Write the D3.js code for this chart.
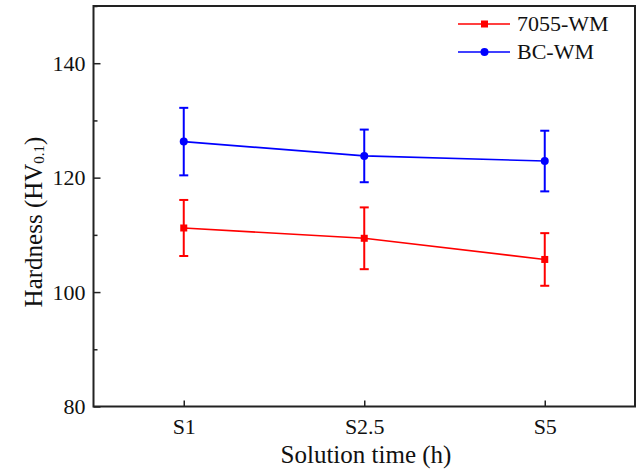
<!doctype html>
<html>
<head>
  <script src="https://d3js.org/d3.v7.min.js"></script>
  <style>
    body { margin:0; background:#fff; }
    text { font-family: "Liberation Serif", "Times New Roman", serif; fill:#111; }
  </style>
</head>
<body>
  <script>
    // chart data
    var categories = ["S1", "S2.5", "S5"];
    var seriesNames = ["7055-WM", "BC-WM"];
    var wmValues = [111.2, 109.4, 105.7];
    var wmErrors = [4.9, 5.4, 4.6];
    var bcValues = [126.3, 123.8, 122.9];
    var bcErrors = [5.9, 4.6, 5.3];
    var yTicks = [80, 100, 120, 140];
    var yMinorTicks = [90, 110, 130, 150];

    var width = 640, height = 469;
    var plotLeft = 93.5, plotRight = 635, plotTop = 6, plotBottom = 406.5;
    var fontSize = "22px";
    var titleSize = "25px";

    var svg = d3.select("body").append("svg")
      .attr("width", width)
      .attr("height", height);

    // scales
    var x = d3.scaleLinear().domain([0.5, 3.5]).range([plotLeft, plotRight]);
    var y = d3.scaleLinear().domain([80, 150]).range([plotBottom, plotTop]);

    var series = [
      {name: seriesNames[0], color: "#ff0000", shape: "square", values: wmValues, errors: wmErrors},
      {name: seriesNames[1], color: "#0000ff", shape: "circle", values: bcValues, errors: bcErrors}
    ];

    // left axis, ticks inside
    svg.append("g")
      .attr("transform", "translate(" + plotLeft + ",0)")
      .call(d3.axisRight(y).tickValues(yMinorTicks).tickSize(4).tickFormat(""))
      .call(function(g){ g.select(".domain").remove(); });
    var yAxis = svg.append("g")
      .attr("transform", "translate(" + plotLeft + ",0)")
      .call(d3.axisRight(y).tickValues(yTicks).tickSize(7));
    yAxis.select(".domain").remove();
    yAxis.selectAll("text")
      .attr("x", -8)
      .attr("text-anchor", "end")
      .style("font-size", fontSize);

    // bottom axis, ticks inside
    var xAxis = svg.append("g")
      .attr("transform", "translate(0," + plotBottom + ")")
      .call(d3.axisTop(x).tickValues([1, 2, 3]).tickSize(6)
        .tickFormat(function(d){ return categories[d - 1]; }));
    xAxis.select(".domain").remove();
    xAxis.selectAll("text")
      .attr("y", 27)
      .attr("dy", 0)
      .style("font-size", fontSize);
    svg.selectAll(".tick line").attr("stroke", "#222").attr("stroke-width", 1.5);

    // frame
    svg.append("rect")
      .attr("x", plotLeft).attr("y", plotTop)
      .attr("width", plotRight - plotLeft).attr("height", plotBottom - plotTop)
      .attr("fill", "none")
      .attr("stroke", "#222")
      .attr("stroke-width", 2);

    // series
    series.forEach(function(s){
      var g = svg.append("g");
      var pts = s.values.map(function(v, i){ return {x: i + 1, v: v, e: s.errors[i]}; });

      g.append("path")
        .datum(pts)
        .attr("fill", "none")
        .attr("stroke", s.color)
        .attr("stroke-width", 1.6)
        .attr("d", d3.line().x(function(d){ return x(d.x); }).y(function(d){ return y(d.v); }));

      // error bars
      pts.forEach(function(d){
        var cx = x(d.x);
        g.append("line")
          .attr("x1", cx).attr("x2", cx)
          .attr("y1", y(d.v + d.e)).attr("y2", y(d.v - d.e))
          .attr("stroke", s.color).attr("stroke-width", 2);
        [d.v + d.e, d.v - d.e].forEach(function(c){
          g.append("line")
            .attr("x1", cx - 4.5).attr("x2", cx + 4.5)
            .attr("y1", y(c)).attr("y2", y(c))
            .attr("stroke", s.color).attr("stroke-width", 2);
        });
      });

      // markers
      pts.forEach(function(d){
        if (s.shape === "square") {
          g.append("rect")
            .attr("x", x(d.x) - 3.5).attr("y", y(d.v) - 3.5)
            .attr("width", 7).attr("height", 7)
            .attr("fill", s.color);
        } else {
          g.append("circle")
            .attr("cx", x(d.x)).attr("cy", y(d.v))
            .attr("r", 4)
            .attr("fill", s.color);
        }
      });
    });

    // legend
    series.forEach(function(s, i){
      var ly = 24 + i * 28;
      var lg = svg.append("g");
      lg.append("line")
        .attr("x1", 458).attr("x2", 510)
        .attr("y1", ly).attr("y2", ly)
        .attr("stroke", s.color).attr("stroke-width", 1.6);
      if (s.shape === "square") {
        lg.append("rect").attr("x", 481).attr("y", ly - 3.5)
          .attr("width", 7).attr("height", 7).attr("fill", s.color);
      } else {
        lg.append("circle").attr("cx", 484.5).attr("cy", ly).attr("r", 4).attr("fill", s.color);
      }
      lg.append("text")
        .attr("x", 517).attr("y", ly + 7)
        .style("font-size", fontSize)
        .text(s.name);
    });

    // axis titles
    svg.append("text")
      .attr("x", 366)
      .attr("y", 463)
      .attr("text-anchor", "middle")
      .style("font-size", titleSize)
      .text("Solution time (h)");

    var yt = svg.append("text")
      .attr("transform", "translate(42,222) rotate(-90)")
      .attr("text-anchor", "middle")
      .style("font-size", titleSize);
    yt.append("tspan").text("Hardness (HV");
    yt.append("tspan").attr("dy", 2).style("font-size", "15px").text("0.1");
    yt.append("tspan").attr("dy", -2).text(")");
  </script>
</body>
</html>
